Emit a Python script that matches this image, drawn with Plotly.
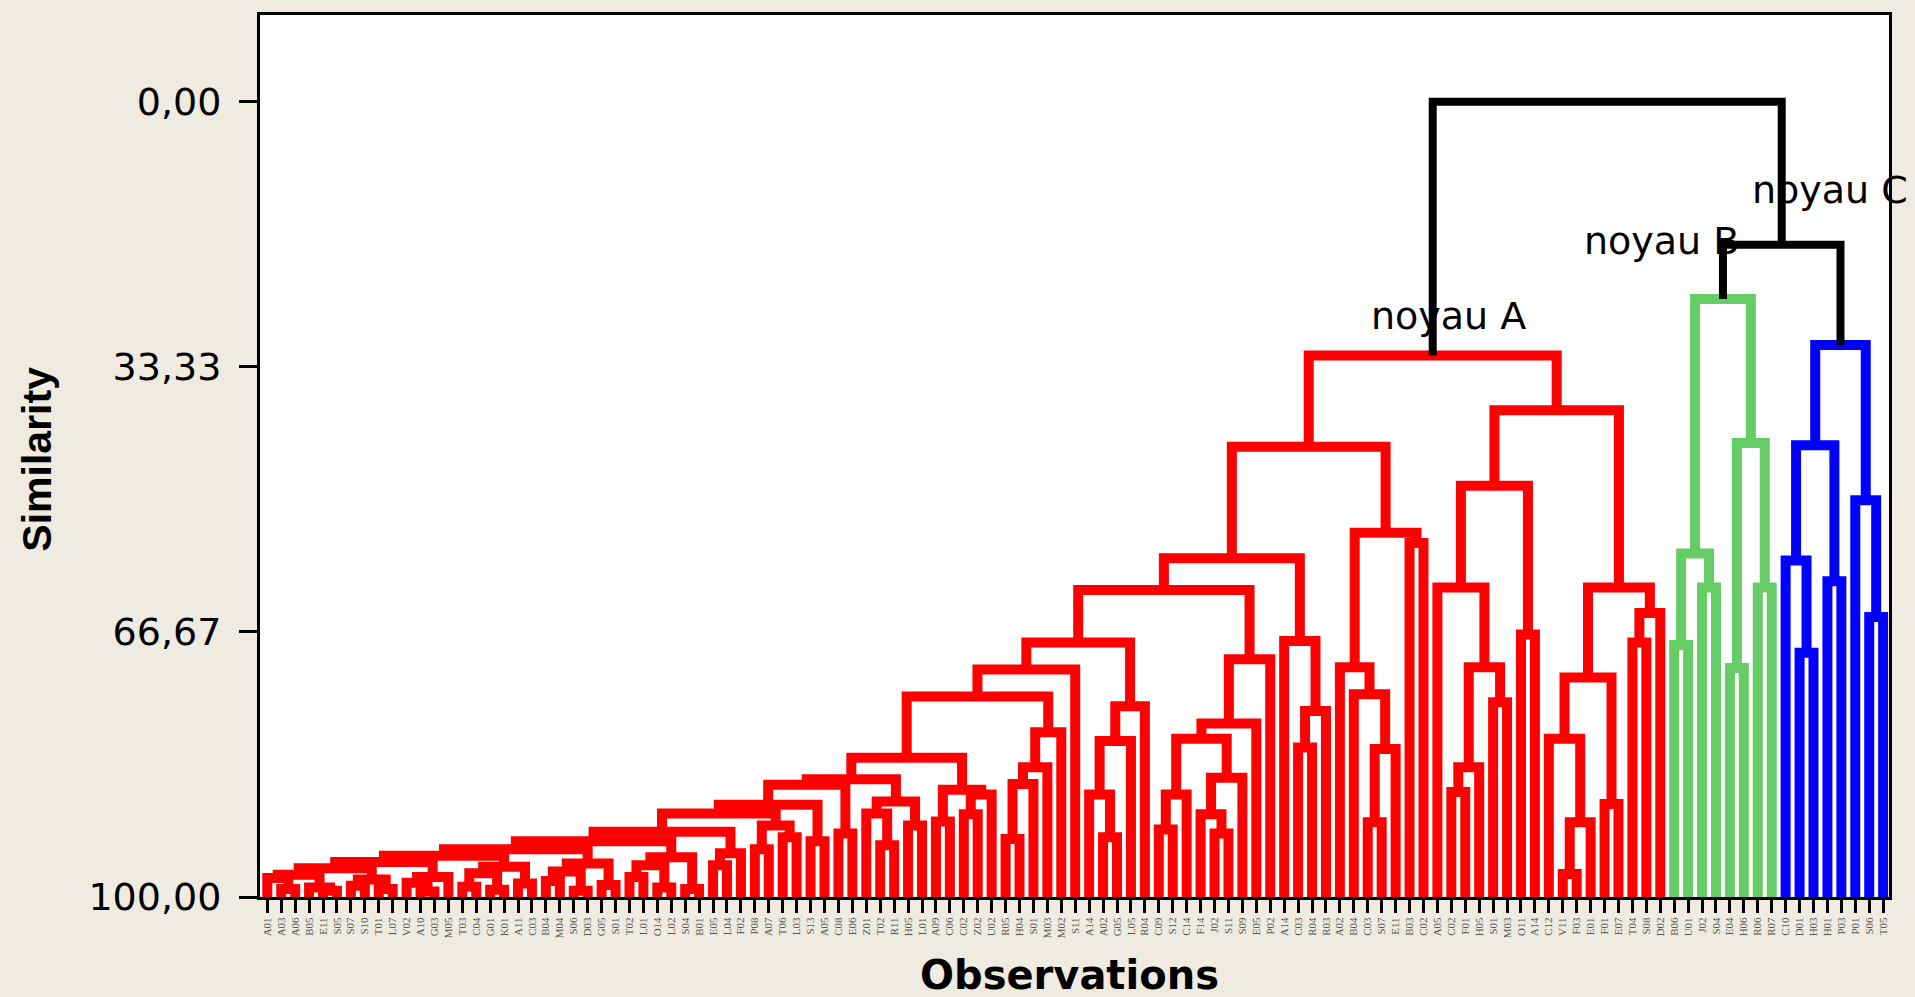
import plotly.graph_objects as go

# ---------------- data ----------------
leaf_labels = [
    "A01", "A03", "A06", "B05", "E11", "S05", "S07", "S10", "T01", "L07",
    "V02", "A10", "G03", "M05", "T03", "C04", "G01", "K01", "A11", "C03",
    "B04", "M04", "S06", "D03", "G05", "S01", "T02", "L01", "O14", "L02",
    "S04", "B01", "E05", "L04", "F02", "P08", "A07", "T06", "L03", "S13",
    "A05", "C08", "E06", "Z01", "T02", "R11", "H05", "L01", "A09", "C06",
    "C02", "Z02", "U02", "R05", "H04", "S01", "M03", "M02", "S11", "A14",
    "A02", "G05", "L05", "R04", "C09", "S12", "C14", "F14", "J02", "S11",
    "S09", "E05", "P02", "A14", "C03", "R04", "R03", "A02", "B04", "C03",
    "S07", "E11", "B03", "C02", "A05", "C02", "F01", "H05", "S01", "M03",
    "O11", "A14", "C12", "V11", "F03", "E01", "F01", "E07", "T04", "S08",
    "D02",
    "B06", "U01", "J02", "S04", "E04", "H06", "R06", "R07",
    "C10", "D01", "H03", "H01", "P03", "P01", "S06", "T05",
]

# similarity level at which the cluster holding leaf i joins the cluster holding leaf i+1
merge_similarity = [
    97.6, 99.0, 97.2, 98.8, 99.2, 96.4, 98.6, 97.8, 99.0, 95.6,   # 1|2 .. 10|11
    98.2, 99.3, 97.5, 94.8, 98.7, 97.0, 99.1, 96.2, 98.3, 94.0,   # 11|12 .. 20|21
    98.0, 96.8, 99.2, 95.8, 98.5, 93.0, 97.5, 96.0, 98.8, 95.0,   # 21|22 .. 30|31
    99.0, 91.8, 96.0, 94.5, 89.5, 94.0, 91.0, 92.5, 88.4, 93.0,   # 31|32 .. 40|41
    85.9, 92.0, 85.2, 89.5, 93.5, 88.0, 91.0, 82.5, 90.5, 86.5,   # 41|42 .. 50|51
    89.6, 87.1, 74.8, 92.7, 85.8, 83.7, 79.3, 71.4, 68.0, 87.1,   # 51|52 .. 60|61
    92.5, 80.4, 76.0, 61.4, 91.5, 87.1, 80.1, 89.6, 92.0, 85.0,   # 61|62 .. 70|71
    78.2, 70.1, 57.4, 67.8, 81.2, 76.6, 43.4, 71.1, 74.5, 90.6,   # 71|72 .. 80|81
    81.4, 54.2, 55.5, 31.9, 61.1, 86.8, 83.7, 71.1, 75.5, 48.3,   # 81|82 .. 90|91
    67.0, 38.8, 80.1, 97.1, 90.6, 72.4, 88.3, 61.1, 68.0, 64.3,   # 91|92 .. 100|101
    0.0,                                                          # 101|102
    68.3, 56.8, 61.1, 24.8, 71.2, 42.9, 61.1,                     # noyau B
    18.0,                                                         # 109|110
    57.7, 69.3, 43.2, 60.3, 30.6, 50.1, 64.8,                     # noyau C
]

cluster_names = ["noyau A", "noyau B", "noyau C"]
cluster_sizes = [101, 8, 8]
cluster_label_x = [85.8, 101.1, 113.2]
cluster_label_y = [27.0, 17.5, 11.1]

y_tick_values = [0.0, 33.33, 66.67, 100.0]
y_tick_text = ["0,00", "33,33", "66,67", "100,00"]

# ---------------- build dendrogram ----------------
cluster_colors = ["#FF0000", "#66CC66", "#0000FF"]
link_color = "#000000"

cluster_of = []
for ci, size in enumerate(cluster_sizes):
    cluster_of += [ci] * size

segs = {c: ([], []) for c in cluster_colors + [link_color]}


def build(a, b):
    if a == b:
        return a + 1, 100.0, {cluster_of[a]}
    k = min(range(a, b), key=lambda j: merge_similarity[j])
    lx, lh, lc = build(a, k)
    rx, rh, rc = build(k + 1, b)
    h = merge_similarity[k]
    cs = lc | rc
    col = cluster_colors[next(iter(cs))] if len(cs) == 1 else link_color
    xs, ys = segs[col]
    xs += [lx, lx, rx, rx, None]
    ys += [lh, h, h, rh, None]
    return (lx + rx) / 2.0, h, cs


build(0, len(leaf_labels) - 1)

fig = go.Figure()
for col in cluster_colors + [link_color]:
    xs, ys = segs[col]
    fig.add_trace(go.Scatter(
        x=xs, y=ys, mode="lines",
        line=dict(color=col, width=8 if col == link_color else 10),
        hoverinfo="skip", showlegend=False,
    ))

for name, lx, ly in zip(cluster_names, cluster_label_x, cluster_label_y):
    fig.add_annotation(x=lx, y=ly, xref="x", yref="y", text=name, showarrow=False,
                       font=dict(family="DejaVu Sans", size=38, color="black"),
                       xanchor="center", yanchor="middle")

fig.add_annotation(x=-0.1369, y=0.497, xref="paper", yref="paper", text="<b>Similarity</b>",
                   showarrow=False, textangle=-90,
                   font=dict(family="Liberation Sans", size=41, color="black"),
                   xanchor="center", yanchor="middle")
fig.add_annotation(x=0.4972, y=-0.0881, xref="paper", yref="paper", text="<b>Observations</b>",
                   showarrow=False,
                   font=dict(family="DejaVu Sans", size=40, color="black"),
                   xanchor="center", yanchor="middle")

n = len(leaf_labels)
fig.update_xaxes(
    range=[0.476, n + 0.42],
    tickmode="array", tickvals=list(range(1, n + 1)), ticktext=leaf_labels,
    tickangle=-90, tickfont=dict(family="Liberation Serif", size=11, color="#555555"),
    ticks="outside", ticklen=13, tickwidth=3, tickcolor="black",
    showline=True, mirror=True, linewidth=3, linecolor="black",
    showgrid=False, zeroline=False,
)
fig.update_yaxes(
    range=[100, -10.9],
    tickmode="array", tickvals=y_tick_values, ticktext=y_tick_text,
    tickfont=dict(family="DejaVu Sans", size=38, color="black"),
    ticks="outside", ticklen=18, tickwidth=3, tickcolor="black",
    ticklabelstandoff=10,
    showline=True, mirror=True, linewidth=3, linecolor="black",
    showgrid=False, zeroline=False,
)
fig.update_layout(
    width=1915, height=997,
    margin=dict(l=260, r=26, t=12, b=100),
    paper_bgcolor="#EFEBE1", plot_bgcolor="white",
    showlegend=False,
)

page_fix = (
    "document.body.style.margin='0px';"
    "document.body.style.padding='0px';"
    "document.body.style.backgroundColor='#EFEBE1';"
    "document.documentElement.style.overflow='hidden';"
)
fig.write_html("out.html", post_script=page_fix,
               config={"displayModeBar": False, "displaylogo": False})
